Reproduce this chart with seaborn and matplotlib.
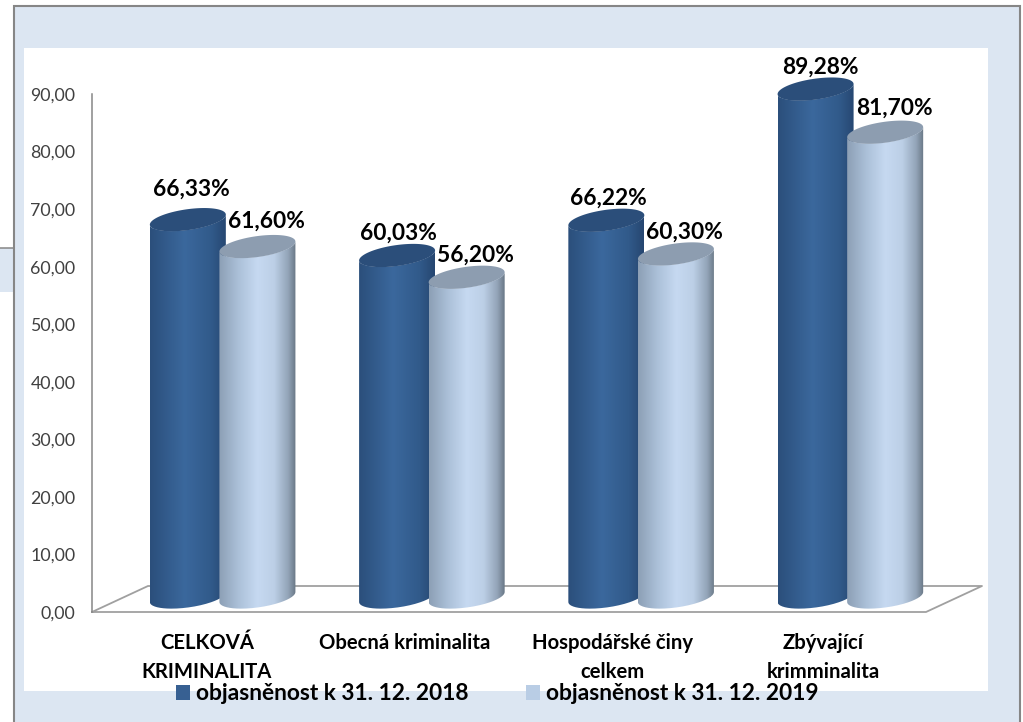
import numpy as np
import pandas as pd
import matplotlib
matplotlib.use("Agg")
import matplotlib.pyplot as plt
from matplotlib.path import Path
from matplotlib.patches import PathPatch, Rectangle
from matplotlib.colors import LinearSegmentedColormap
from matplotlib.transforms import ScaledTranslation
import seaborn as sns

categories = ["CELKOVÁ\nKRIMINALITA", "Obecná kriminalita", "Hospodářské činy\ncelkem", "Zbývající\nkrimminalita"]
series_names = ["objasněnost k 31. 12. 2018", "objasněnost k 31. 12. 2019"]
values_2018 = [66.33, 60.03, 66.22, 89.28]
values_2019 = [61.60, 56.20, 60.30, 81.70]
value_ticks = [0, 10, 20, 30, 40, 50, 60, 70, 80, 90]

# label nudges in pixels (dx, dy)
nudge_2018 = [(4, 30), (1, 22), (2, 22), (5, 22)]
nudge_2019 = [(9, 25), (9, 22), (9, 22), (9, 24)]
cat_nudge = [-15.6, -26.9, -29.1, -27.4]

W, H = 1023, 722
sns.set_theme(style="white")
plt.rcParams["font.family"] = ["Lato", "DejaVu Sans"]
fig = plt.figure(figsize=(W / 100, H / 100), dpi=100, facecolor="white")


def rect(x0, y0, x1, y1):
    return [x0 / W, 1 - y1 / H, (x1 - x0) / W, (y1 - y0) / H]


BLUE = "#dce6f2"
GREY = "#868686"
bg = fig.add_axes([0, 0, 1, 1], zorder=0)
bg.set_xlim(0, W)
bg.set_ylim(H, 0)
bg.axis("off")
bg.add_patch(Rectangle((0, 248), 14, 44, fc=BLUE, ec="none"))
bg.plot([0, 14], [248, 248], color=GREY, lw=1.1)
bg.add_patch(Rectangle((14, 6), 1006, H, fc=BLUE, ec=GREY, lw=1.5))
bg.add_patch(Rectangle((24, 48), 964, 643, fc="white", ec="none"))
bg.plot([92, 148, 982, 926, 92], [612, 586, 586, 612, 612], color="#a0a0a0", lw=1.3)

# value axis
ay = fig.add_axes(rect(92, 94, 94, 612), zorder=1, facecolor="none")
ay.set_ylim(0, 90)
ay.set_yticks(value_ticks)
ay.set_yticklabels([f"{v:.2f}".replace(".", ",") for v in value_ticks], fontsize=12.8, color="#404040")
ay.set_xticks([])
ay.tick_params(axis="y", length=0, pad=12)
for s in ["top", "right", "bottom"]:
    ay.spines[s].set_visible(False)
ay.spines["left"].set_color(GREY)
ay.spines["left"].set_linewidth(1.1)

# bars
ax = fig.add_axes(rect(118, 85, 955, 597), zorder=2, facecolor="none")
df = pd.DataFrame({
    "cat": categories * 2,
    "series": [series_names[0]] * 4 + [series_names[1]] * 4,
    "value": values_2018 + values_2019,
})
palette = {series_names[0]: "#376092", series_names[1]: "#b9cde5"}
sns.barplot(data=df, x="cat", y="value", hue="series", palette=palette, width=0.665,
            gap=0, saturation=1, ax=ax, order=categories, hue_order=series_names, linewidth=0)
ax.set_xlim(-0.5, 3.5)
ax.set_ylim(0, 90)
ax.set_xlabel("")
ax.set_ylabel("")
ax.set_yticks([])
for s in ax.spines.values():
    s.set_visible(False)

xpx = 837 / 4        # pixels per category
ypx = 512 / 90       # pixels per unit
cmap_dark = LinearSegmentedColormap.from_list("d", [(0, "#2b4f7b"), (0.45, "#3b689d"), (0.8, "#315a8a"), (1, "#264670")])
cmap_light = LinearSegmentedColormap.from_list("l", [(0, "#8c9fb5"), (0.25, "#abc0d8"), (0.5, "#c6d9f1"), (0.72, "#bccfe6"), (0.9, "#93a4b8"), (1, "#687785")])
top_col = ["#2b4e7a", "#8d9db0"]
grad = np.linspace(0, 1, 256).reshape(1, -1)
A, B, S = 38.0, 10.5, 5.0  # ellipse half axes and tilt in pixels


def ring(cx, cy, t):
    return np.c_[cx + A * np.cos(t) / xpx, cy + (B * np.sin(t) + S * np.cos(t)) / ypx]


bars = [p for p in ax.patches if p.get_height() > 0]
for k, p in enumerate(bars):
    j = 0 if k < 4 else 1
    cx = p.get_x() + p.get_width() / 2
    h = p.get_height()
    t_low = np.linspace(np.pi, 2 * np.pi, 80)
    lower_base = ring(cx, 0, t_low)
    lower_top = ring(cx, h, t_low)[::-1]
    verts = np.vstack([lower_base, lower_top, lower_base[:1]])
    path = Path(verts)
    z = 3 + 2 * j
    clip = PathPatch(path, transform=ax.transData, fc="none", ec="none")
    ax.add_patch(clip)
    clip.set_clip_on(False)
    p.set_zorder(z)
    p.set_clip_path(clip)
    hw = A / xpx
    im = ax.imshow(grad, extent=[cx - hw, cx + hw, -5, h + 5], aspect="auto",
                   cmap=[cmap_dark, cmap_light][j], zorder=z, interpolation="bilinear")
    im.set_clip_path(clip)
    im.set_clip_box(fig.bbox)
    cap = ring(cx, h, np.linspace(0, 2 * np.pi, 120))
    top = PathPatch(Path(cap), fc=top_col[j], ec="none", zorder=z + 0.5, clip_on=False)
    ax.add_patch(top)
ax.set_xlim(-0.5, 3.5)
ax.set_ylim(0, 90)

# value labels
for k, p in enumerate(bars):
    v = (values_2018 + values_2019)[k]
    dx, dy = (nudge_2018 + nudge_2019)[k]
    ax.annotate(f"{v:.2f}%".replace(".", ","), (p.get_x() + p.get_width() / 2, v),
                xytext=(dx * 0.72, dy * 0.72), textcoords="offset points", ha="center", va="center",
                fontsize=16.4, fontweight="bold", color="black", zorder=10, annotation_clip=False)

# category labels
ax.tick_params(axis="x", length=0, pad=26)
ax.set_xticks(range(4))
ax.set_xticklabels(categories, fontsize=14.6, fontweight="bold", color="black", linespacing=1.57, va="top")
for lab, dx in zip(ax.get_xticklabels(), cat_nudge):
    lab.set_transform(lab.get_transform() + ScaledTranslation(dx / 100, 0, fig.dpi_scale_trans))

# legend
leg = ax.legend(title=None, loc="center left", bbox_to_anchor=(176 / W, 1 - 694 / H), bbox_transform=fig.transFigure,
                ncols=2, frameon=False, fontsize=16.4, handlelength=0.62, handleheight=0.62,
                handletextpad=0.27, columnspacing=2.5, borderpad=0, borderaxespad=0)
for t in leg.get_texts():
    t.set_fontweight("bold")
    t.set_color("black")
leg.set_zorder(12)

fig.savefig("out.png", dpi=100, facecolor="white")
